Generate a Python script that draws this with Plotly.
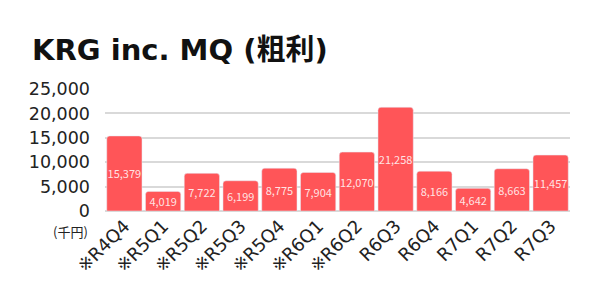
import plotly.graph_objects as go

categories = ["※R4Q4", "※R5Q1", "※R5Q2", "※R5Q3", "※R5Q4", "※R6Q1", "※R6Q2",
              "R6Q3", "R6Q4", "R7Q1", "R7Q2", "R7Q3"]
values = [15379, 4019, 7722, 6199, 8775, 7904, 12070, 21258, 8166, 4642, 8663, 11457]
y_ticks = [0, 5000, 10000, 15000, 20000, 25000]

CJK = "Noto Sans CJK JP"
LAT = "DejaVu Sans, " + CJK

fig = go.Figure(go.Bar(
    x=categories,
    y=values,
    marker=dict(color="#FF5558", cornerradius=3),
    text=[f"{v:,}" for v in values],
    textposition="inside",
    insidetextanchor="middle",
    textangle=0,
    textfont=dict(color="rgba(255,255,255,0.85)", size=11, family=CJK),
    cliponaxis=False,
))

fig.update_layout(
    width=600, height=300,
    margin=dict(l=105, r=30, t=89, b=89),
    paper_bgcolor="white", plot_bgcolor="white",
    bargap=0.09,
    showlegend=False,
    uniformtext=dict(minsize=11, mode="show"),
    font=dict(family=LAT, color="#222222"),
    title=dict(text="<b>KRG inc. MQ (粗利)</b>", x=32/600, xanchor="left",
               xref="container", y=1 - 50/300, yref="container", yanchor="middle",
               font=dict(size=29, family=LAT, color="#111111")),
)

fig.update_yaxes(range=[0, 25000], tickvals=y_ticks, tickformat=",",
                 showgrid=True, gridcolor="#d9d9d9", gridwidth=1.5,
                 zeroline=True, zerolinecolor="#d9d9d9", zerolinewidth=1.5,
                 tickfont=dict(size=17.5, color="#222222", family=LAT), ticks="",
                 ticklabelstandoff=14, fixedrange=True)
fig.update_xaxes(tickangle=-45, tickfont=dict(size=18, color="#222222", family=LAT),
                 showgrid=False, showline=False, ticks="")

fig.add_annotation(text="(千円)", xref="paper", yref="paper", x=-0.032, y=-0.17,
                   xanchor="right", yanchor="middle", showarrow=False,
                   font=dict(size=13, family=CJK, color="#222222"))

fig.write_html("out.html")
